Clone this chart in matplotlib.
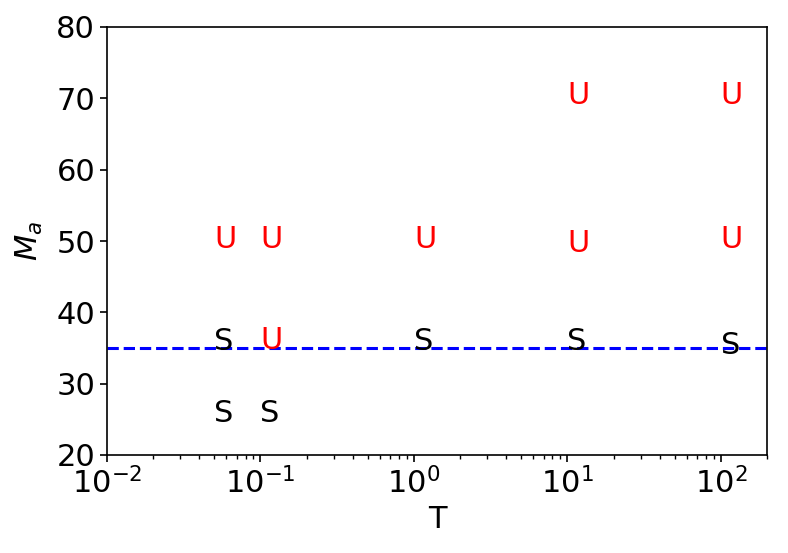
import matplotlib
matplotlib.use("Agg")
import matplotlib.pyplot as plt

# Stable points
s_T = [0.05, 0.05, 0.1, 1, 10, 100]
s_M = [34.65, 24.65, 24.65, 34.65, 34.65, 34.2]
# Unstable points
u_T = [0.05, 0.1, 0.1, 1, 10, 10, 100, 100]
u_M = [49, 49, 34.8, 49, 69.2, 48.5, 69.2, 49]
threshold = 35

fig = plt.figure(figsize=(7.88, 5.53), dpi=100)
ax = fig.add_axes([107/788, 1-455/553, (767-107)/788, (455-27)/553])
ax.set_xscale('log')
ax.set_xlim(1e-2, 200)
ax.set_ylim(20, 80)
ax.axhline(threshold, color='blue', linestyle='--', linewidth=2.2)
for t, m in zip(s_T, s_M):
    ax.text(t, m, 'S', color='black', fontsize=22)
for t, m in zip(u_T, u_M):
    ax.text(t, m, 'U', color='red', fontsize=22)
ax.set_xlabel('T', fontsize=22)
ax.set_ylabel('$M_a$', fontsize=22, labelpad=8)
ax.tick_params(which='major', labelsize=22, length=5, width=1.2)
ax.tick_params(which='minor', length=3, width=1.0)
for sp in ax.spines.values():
    sp.set_linewidth(1.2)
fig.savefig('out.png', dpi=100)
